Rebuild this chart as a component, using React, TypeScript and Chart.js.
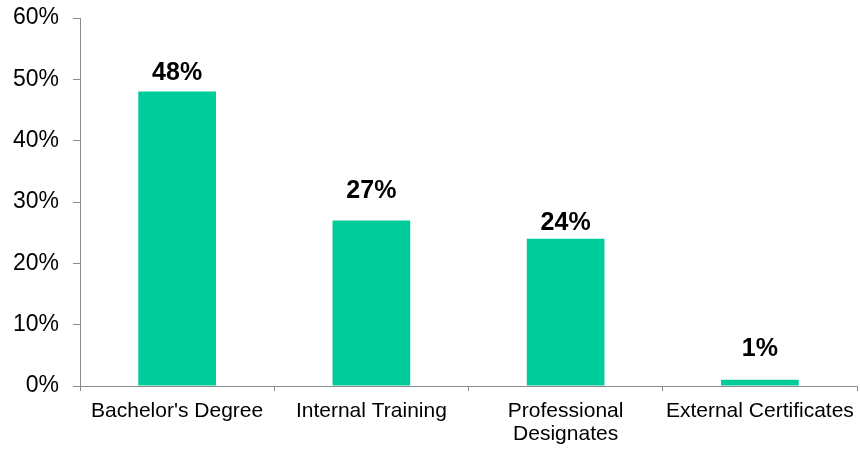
import React, { useEffect, useRef } from "react";
import { Chart, registerables } from "chart.js";

Chart.register(...registerables);

const categories: (string | string[])[] = [
  "Bachelor's Degree",
  "Internal Training",
  ["Professional", "Designates"],
  "External Certificates",
];
const values: number[] = [48, 27, 24, 1];
const yTicks: number[] = [0, 10, 20, 30, 40, 50, 60];

const FONT = '"Liberation Sans", Arial, Helvetica, sans-serif';
const BAR_COLOR = "#00CC99";
const AXIS_COLOR = "#8c8c8c";
const labelGaps = [12, 22, 9, 24];

const valueLabels = {
  id: "valueLabels",
  afterDatasetsDraw(chart: any) {
    const ctx = chart.ctx;
    const meta = chart.getDatasetMeta(0);
    ctx.save();
    ctx.font = `bold 25px ${FONT}`;
    ctx.fillStyle = "#000";
    ctx.textAlign = "center";
    ctx.textBaseline = "alphabetic";
    meta.data.forEach((bar: any, i: number) => {
      const v = chart.data.datasets[0].data[i];
      ctx.fillText(`${v}%`, bar.x, bar.y - labelGaps[i]);
    });
    ctx.restore();
  },
};

export default function App() {
  const ref = useRef<HTMLCanvasElement | null>(null);
  useEffect(() => {
    if (!ref.current) return;
    const chart = new Chart(ref.current, {
      type: "bar",
      data: {
        labels: categories,
        datasets: [
          {
            data: values,
            backgroundColor: BAR_COLOR,
            borderWidth: 0,
            barPercentage: 0.4,
            categoryPercentage: 1,
          },
        ],
      },
      options: {
        animation: false,
        responsive: false,
        maintainAspectRatio: false,
        layout: { padding: { top: 18, right: 3, left: 0, bottom: 0 } },
        plugins: { legend: { display: false }, tooltip: { enabled: false } },
        scales: {
          x: {
            offset: true,
            grid: {
              display: true,
              offset: true,
              drawOnChartArea: false,
              drawTicks: true,
              tickLength: 5,
              color: AXIS_COLOR,
            },
            border: { display: true, color: AXIS_COLOR, width: 1 },
            ticks: {
              color: "#000",
              padding: 9,
              maxRotation: 0,
              autoSkip: false,
              font: { family: FONT, size: 21, lineHeight: 1.08 },
            },
            afterFit(scale: any) {
              scale.height = 65;
              scale.paddingLeft = 0;
              scale.paddingRight = 0;
            },
          },
          y: {
            min: yTicks[0],
            max: yTicks[yTicks.length - 1],
            afterBuildTicks(scale: any) {
              scale.ticks = yTicks.map((v) => ({ value: v }));
            },
            grid: {
              display: true,
              drawOnChartArea: false,
              drawTicks: true,
              tickLength: 7,
              color: AXIS_COLOR,
            },
            border: { display: true, color: AXIS_COLOR, width: 1 },
            ticks: {
              color: "#000",
              padding: 14,
              font: { family: FONT, size: 23 },
              callback: (v: any) => `${v}%`,
            },
            afterFit(scale: any) {
              scale.width = 80;
              scale.paddingTop = 0;
              scale.paddingBottom = 0;
            },
          },
        },
      },
      plugins: [valueLabels],
    });
    return () => chart.destroy();
  }, []);
  return (
    <div style={{ position: "absolute", left: 0, top: 0, width: 860, height: 451, background: "#fff" }}>
      <canvas ref={ref} width={860} height={451} style={{ width: 860, height: 451 }} />
    </div>
  );
}
